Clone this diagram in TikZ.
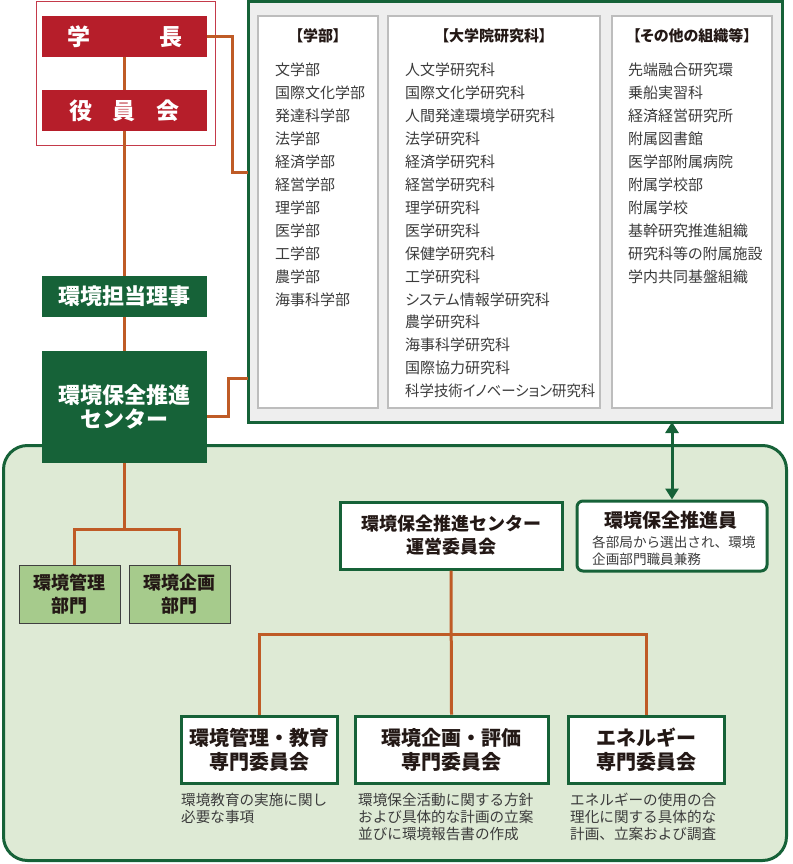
\documentclass[tikz,border=0pt]{standalone}
\usepackage{graphicx}
\usepackage{fontspec}
\setmainfont{Noto Sans CJK JP}
\newfontfamily\pfont[RawFeature=+palt]{Noto Sans CJK JP}
\usetikzlibrary{arrows.meta}
\definecolor{redC}{RGB}{182,30,42}
\definecolor{redL}{RGB}{196,58,74}
\definecolor{greenD}{RGB}{22,98,56}
\definecolor{orangeC}{RGB}{191,91,38}
\definecolor{bgG}{RGB}{222,234,213}
\definecolor{deptG}{RGB}{166,203,140}
\definecolor{grayBg}{RGB}{238,238,238}
\definecolor{colB}{RGB}{189,189,189}
\definecolor{txtD}{RGB}{35,24,21}
\definecolor{txtG}{RGB}{60,60,60}
\tikzset{
  redbox/.style={fill=redC, draw=none, minimum width=165pt, minimum height=41pt, inner sep=0pt, text=white, font=\bfseries\fontsize{23}{23}\selectfont},
  greenbox/.style={fill=greenD, draw=none, minimum width=165pt, inner sep=0pt, text=white, align=center, font=\bfseries\fontsize{22}{24}\selectfont},
  conn/.style={draw=orangeC, line width=3pt},
  colbox/.style={fill=white, draw=colB, line width=1.5pt, inner sep=0pt},
  hdr/.style={inner sep=0pt, text=txtD, font=\pfont\bfseries\fontsize{15}{15}\selectfont},
  item/.style={anchor=west, inner sep=0pt, text=txtG, font=\pfont\fontsize{15}{15}\selectfont},
  whitebox/.style={fill=white, draw=greenD, line width=3pt, inner sep=0pt, align=center, text=txtD},
  deptbox/.style={fill=deptG, draw=black!75, line width=1pt, minimum width=101pt, minimum height=58pt, inner sep=0pt, align=center, text=txtD, font=\bfseries\fontsize{18}{23}\selectfont},
  subbox/.style={whitebox, minimum height=67pt, font=\bfseries\fontsize{20}{24}\selectfont},
  desc/.style={anchor=west, inner sep=0pt, align=left, text=txtG, font=\fontsize{14.6}{17.2}\selectfont},
  garrow/.style={draw=greenD, line width=3pt, {Triangle[width=13pt,length=11pt]}-{Triangle[width=13pt,length=11pt]}}
}
\begin{document}
\begin{tikzpicture}[x=1pt,y=-1pt]
\useasboundingbox (0,0) rectangle (792,864);
% green background area
\draw[fill=bgG, draw=greenD, line width=3pt, rounded corners=24pt] (3.5,445.5) rectangle (786.5,860.5);
% top left frame
\draw[draw=redL, line width=1pt] (36,2) rectangle (215,145);
\node[redbox] (gakucho) at (124.5,36.5) {学\hspace{69pt}長};
\node[redbox] (yakuin) at (124.5,110.5) {役\hspace{20.5pt}員\hspace{20.5pt}会};
\node[greenbox, minimum height=41pt] (riji) at (124.5,296.5) {環境担当理事};
\node[greenbox, minimum height=112pt] (center) at (124.5,407) {環境保全推進\\センター};
% units box
\draw[fill=grayBg, draw=greenD, line width=3pt] (248.5,2) rectangle (782,422);
\coordinate (unitsS) at (672,422);
\draw[colbox] (258,16) rectangle (378,408);
\draw[colbox] (388,16) rectangle (600,408);
\draw[colbox] (612,16) rectangle (772,408);
\node[hdr] (h1) at (318,36) {【学部】};
\node[hdr] (h2) at (494,36) {【大学院研究科】};
\node[hdr] (h3) at (692,36) {【その他の組織等】};
\foreach \t [count=\i] in {文学部,国際文化学部,発達科学部,法学部,経済学部,経営学部,理学部,医学部,工学部,農学部,海事科学部}
  \node[item] (a\i) at (275,{70+(\i-1)*23}) {\t};
\foreach \t [count=\i] in {人文学研究科,国際文化学研究科,人間発達環境学研究科,法学研究科,経済学研究科,経営学研究科,理学研究科,医学研究科,保健学研究科,工学研究科,システム情報学研究科,農学研究科,海事科学研究科,国際協力研究科}
  \node[item] (b\i) at (405,{70+(\i-1)*22.93}) {\t};
\node[item] (b15) at (405,391) {\scalebox{0.96}[1]{科学技術イノベーション研究科}};
\foreach \t [count=\i] in {先端融合研究環,乗船実習科,経済経営研究所,附属図書館,医学部附属病院,附属学校部,附属学校,基幹研究推進組織,研究科等の附属施設,学内共同基盤組織}
  \node[item] (c\i) at (628,{70+(\i-1)*23}) {\t};
% connectors top
\draw[conn] (gakucho.south) -- (yakuin.north);
\draw[conn] (yakuin.south) -- (riji.north);
\draw[conn] (riji.south) -- (center.north);
\coordinate (k1) at (248,172);
\coordinate (k2) at (248,378);
\draw[conn] (gakucho.east) -- ++(25.5,0) |- (k1);
\draw[conn] ([yshift=-9pt]center.east) -- ++(21,0) |- (k2);
% departments
\node[deptbox] (dept1) at (69.5,594) {環境管理\\部門};
\node[deptbox] (dept2) at (179.5,594) {環境企画\\部門};
\coordinate (jc) at (124.5,529);
\draw[conn] (center.south) -- (jc);
\draw[conn] ([xshift=4.5pt]dept1.north) |- (jc) -| (dept2.north);
% committee
\node[whitebox, minimum width=222pt, minimum height=67pt, font=\bfseries\fontsize{18}{23}\selectfont] (unei) at (451,535.5) {環境保全推進センター\\運営委員会};
\node[whitebox, rounded corners=6pt, minimum width=190pt, minimum height=70pt] (suishin) at (672,536) {};
\node[inner sep=0pt, text=txtD, font=\bfseries\fontsize{19}{19}\selectfont] (suishinT) at (671,520) {環境保全推進員};
\node[inner sep=0pt, anchor=west, align=left, text=txtG, font=\fontsize{13.6}{17}\selectfont] (suishinN) at (592,550.5) {各部局から選出され、環境\\企画部門職員兼務};
\draw[garrow] (unitsS) -- (suishin.north);
% sub committees
\node[subbox, minimum width=156pt] (s1) at (259,749.5) {環境管理・教育\\専門委員会};
\node[subbox, minimum width=193pt] (s2) at (451.5,749.5) {環境企画・評価\\専門委員会};
\node[subbox, minimum width=156pt] (s3) at (646,749.5) {エネルギー\\専門委員会};
\coordinate (jb) at (451.5,634);
\draw[conn] (unei.south) -- (s2.north);
\draw[conn] (s1.north) |- (jb) -| (s3.north);
\node[desc] (d1) at (181,808.5) {環境教育の実施に関し\\必要な事項};
\node[desc] (d2) at (358,817) {環境保全活動に関する方針\\および具体的な計画の立案\\並びに環境報告書の作成};
\node[desc] (d3) at (570,817) {エネルギーの使用の合\\理化に関する具体的な\\計画、立案および調査};
\end{tikzpicture}
\end{document}
